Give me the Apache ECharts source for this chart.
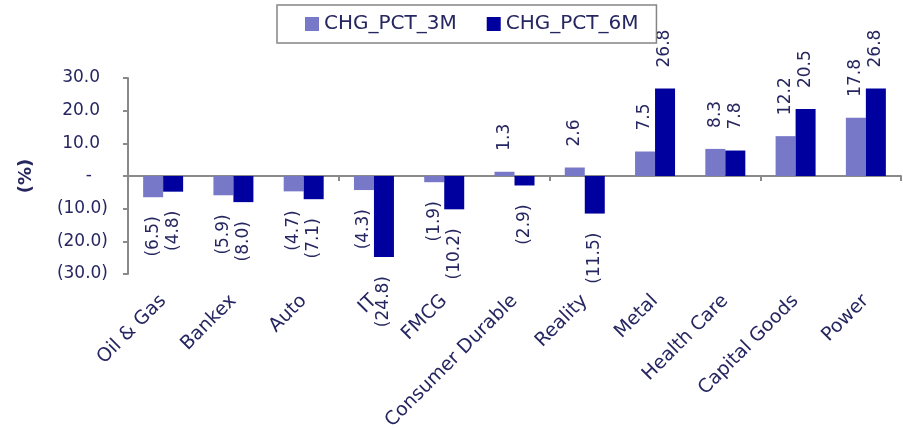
<!DOCTYPE html>
<html>
<head>
<meta charset="utf-8">
<script src="https://cdn.jsdelivr.net/npm/echarts@6/dist/echarts.min.js"></script>
<style>
  html, body { margin: 0; padding: 0; background: #ffffff; }
  #chart { width: 903px; height: 428px; }
</style>
</head>
<body>
<div id="chart"></div>
<script>
// Sector returns, in percent
const categories = ['Oil & Gas', 'Bankex', 'Auto', 'IT', 'FMCG', 'Consumer Durable',
  'Reality', 'Metal', 'Health Care', 'Capital Goods', 'Power'];
const chg3m = [-6.5, -5.9, -4.7, -4.3, -1.9, 1.3, 2.6, 7.5, 8.3, 12.2, 17.8];
const chg6m = [-4.8, -8.0, -7.1, -24.8, -10.2, -2.9, -11.5, 26.8, 7.8, 20.5, 26.8];
const seriesNames = ['CHG_PCT_3M', 'CHG_PCT_6M'];
const yMin = -30, yMax = 30, yStep = 10;

const FONT = 'DejaVu Sans';
const TEXT = '#262660';
const AXIS = '#8a8a8a';

// Accounting-style number: negatives in brackets, zero as a dash
function acct(v) {
  if (Math.abs(v) < 1e-9) return '-';
  const s = Math.abs(v).toFixed(1);
  return v < 0 ? '(' + s + ')' : s;
}

// Labels stand vertically past the end of each bar; the label offset is
// measured along the rotated text, so a negative x pushes it downwards.
function barData(values) {
  return values.map(v => ({
    value: v,
    label: v < 0
      ? { position: 'bottom', align: 'right', distance: 5, offset: [-14, 0] }
      : { position: 'top', align: 'left', distance: 21 }
  }));
}

// The value scale is drawn as three overlaid left axes so that negatives,
// positives and the zero dash each sit at their own distance from the line
// (positives leave room for the closing bracket, accounting style).
function valueAxis(extra, labelMargin, filter) {
  return Object.assign({
    type: 'value',
    position: 'left',
    min: yMin,
    max: yMax,
    interval: yStep,
    splitLine: { show: false },
    axisLine: { show: false },
    axisTick: { show: false },
    axisLabel: {
      margin: labelMargin,
      fontFamily: FONT,
      fontSize: 17,
      color: TEXT,
      formatter: v => (filter(v) ? acct(v) : '')
    }
  }, extra);
}

const isZero = v => Math.abs(v) < 1e-9;

const chart = echarts.init(document.getElementById('chart'), null, { renderer: 'canvas' });

chart.setOption({
  animation: false,
  textStyle: { fontFamily: FONT },
  legend: {
    data: seriesNames,
    left: 277,
    top: 5,
    padding: [9, 18, 9, 28],
    itemWidth: 14,
    itemHeight: 14,
    itemGap: 30,
    icon: 'rect',
    borderColor: '#858585',
    borderWidth: 1.5,
    selectedMode: false,
    textStyle: { fontFamily: FONT, fontSize: 20, color: TEXT }
  },
  grid: { left: 128, right: 2, top: 78, bottom: 154, containLabel: false, outerBoundsMode: 'none' },
  xAxis: [
    {
      // zero line with category ticks
      type: 'category',
      data: categories,
      position: 'bottom',
      axisLine: { onZero: true, onZeroAxisIndex: 0, lineStyle: { color: AXIS, width: 2 } },
      axisTick: { show: true, length: 5, lineStyle: { color: AXIS, width: 2 } },
      axisLabel: { show: false },
      splitLine: { show: false }
    },
    {
      // category names along the bottom edge
      type: 'category',
      data: categories,
      position: 'bottom',
      axisLine: { show: false, onZero: false },
      axisTick: { show: false },
      axisLabel: {
        show: true,
        interval: 0,
        rotate: 45,
        margin: 24,
        fontFamily: FONT,
        fontSize: 19,
        color: TEXT
      },
      splitLine: { show: false }
    }
  ],
  yAxis: [
    valueAxis({
      name: '(%)',
      nameLocation: 'middle',
      nameGap: 93,
      nameTextStyle: { fontFamily: FONT, fontSize: 18, fontWeight: 'bold', color: TEXT },
      axisLine: { show: true, lineStyle: { color: AXIS, width: 2 } },
      axisTick: { show: true, length: 5, lineStyle: { color: AXIS, width: 2 } }
    }, 20, v => v < 0 && !isZero(v)),
    valueAxis({}, 28, v => v > 0 && !isZero(v)),
    valueAxis({}, 36, isZero)
  ],
  series: [
    {
      name: seriesNames[0],
      type: 'bar',
      xAxisIndex: 0,
      yAxisIndex: 0,
      data: barData(chg3m),
      barWidth: 20,
      barGap: '0%',
      itemStyle: { color: '#7878c8' },
      label: {
        show: true,
        rotate: 90,
        verticalAlign: 'middle',
        fontFamily: FONT,
        fontSize: 17,
        color: TEXT,
        formatter: p => acct(p.value)
      }
    },
    {
      name: seriesNames[1],
      type: 'bar',
      xAxisIndex: 0,
      yAxisIndex: 0,
      data: barData(chg6m),
      barWidth: 20,
      barGap: '0%',
      itemStyle: { color: '#00009e' },
      label: {
        show: true,
        rotate: 90,
        verticalAlign: 'middle',
        fontFamily: FONT,
        fontSize: 17,
        color: TEXT,
        formatter: p => acct(p.value)
      }
    }
  ]
});
</script>
</body>
</html>
